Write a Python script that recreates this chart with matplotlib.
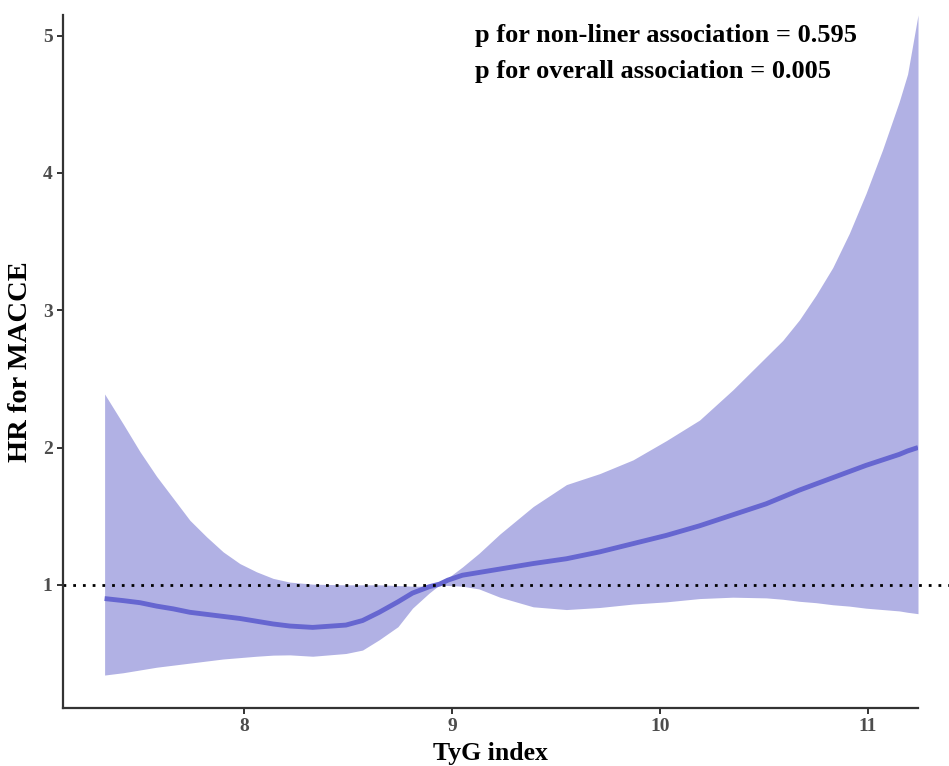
import numpy as np
import matplotlib
matplotlib.use("Agg")
import matplotlib.pyplot as plt

plt.rcParams["font.family"] = ["Liberation Serif", "DejaVu Serif"]
plt.rcParams["font.weight"] = "bold"

# TyG index grid and hazard ratio estimates
tyg = [7.33, 7.42, 7.50, 7.58, 7.66, 7.74, 7.82, 7.90, 7.98, 8.06, 8.14,
       8.22, 8.33, 8.49, 8.57, 8.65, 8.74, 8.81, 8.89, 8.94, 8.98, 9.05,
       9.13, 9.23, 9.39, 9.55, 9.71, 9.87, 10.03, 10.19, 10.35, 10.51,
       10.59, 10.67, 10.75, 10.83, 10.91, 10.99, 11.07, 11.15, 11.19, 11.24]
hr = [0.90, 0.885, 0.87, 0.845, 0.825, 0.80, 0.785, 0.77, 0.755, 0.735, 0.715,
      0.70, 0.69, 0.707, 0.74, 0.80, 0.876, 0.94, 0.986, 1.005, 1.034, 1.07,
      1.09, 1.115, 1.155, 1.19, 1.24, 1.30, 1.36, 1.43, 1.51, 1.59,
      1.64, 1.69, 1.735, 1.78, 1.825, 1.87, 1.91, 1.95, 1.975, 2.00]
hr_upper = [2.39, 2.17, 1.97, 1.79, 1.63, 1.47, 1.35, 1.24, 1.155, 1.095, 1.047,
            1.02, 1.005, 1.0, 1.0, 1.0, 0.995, 0.99, 0.99, 1.01, 1.05, 1.13,
            1.23, 1.37, 1.57, 1.73, 1.81, 1.91, 2.05, 2.20, 2.42, 2.66,
            2.78, 2.93, 3.11, 3.31, 3.56, 3.85, 4.17, 4.52, 4.72, 5.15]
hr_lower = [0.343, 0.36, 0.38, 0.40, 0.415, 0.43, 0.445, 0.46, 0.47, 0.48, 0.488,
            0.49, 0.48, 0.50, 0.525, 0.60, 0.695, 0.83, 0.94, 1.0, 0.995, 0.99,
            0.97, 0.91, 0.84, 0.82, 0.835, 0.86, 0.876, 0.90, 0.91, 0.905,
            0.895, 0.88, 0.87, 0.855, 0.845, 0.83, 0.82, 0.81, 0.80, 0.79]

p_nonlinear = 0.595
p_overall = 0.005

fig = plt.figure(figsize=(9.49, 7.66), dpi=100)
ax = fig.add_axes([63 / 949, (766 - 708) / 766, (918 - 63) / 949, (708 - 15) / 766])

ax.fill_between(tyg, hr_lower, hr_upper, color="#b1b1e4", linewidth=0)
ax.plot(tyg, hr, color="#6666d0", linewidth=3.5, solid_capstyle="butt",
        solid_joinstyle="round")

# reference line at HR = 1
ax.plot([0, 1.04], [1, 1], transform=ax.get_yaxis_transform(), clip_on=False,
        color="black", linewidth=2, linestyle=(0, (1, 2.5)), dash_capstyle="butt")

ax.text(9.11, 5.0, f"p for non-liner association = {p_nonlinear:.3f}",
        fontsize=19, fontweight="bold", va="center", ha="left")
ax.text(9.11, 4.735, f"p for overall association = {p_overall:.3f}",
        fontsize=19, fontweight="bold", va="center", ha="left")

ax.set_xlim(7.13, 11.24)
ax.set_ylim(0.103, 5.15)
ax.set_xticks([8, 9, 10, 11])
ax.set_yticks([1, 2, 3, 4, 5])

ax.set_xlabel("TyG index", fontsize=18.5, fontweight="bold", labelpad=5)
ax.set_ylabel("HR for MACCE", fontsize=20.5, fontweight="bold", labelpad=7)

for side in ["top", "right"]:
    ax.spines[side].set_visible(False)
for side in ["left", "bottom"]:
    ax.spines[side].set_linewidth(1.6)
    ax.spines[side].set_color("#333333")

ax.tick_params(axis="both", direction="out", length=4, width=1.4,
               color="#333333", labelcolor="#4d4d4d", labelsize=14)
for lab in ax.get_xticklabels() + ax.get_yticklabels():
    lab.set_fontweight("bold")

fig.savefig("out.png", dpi=100)
